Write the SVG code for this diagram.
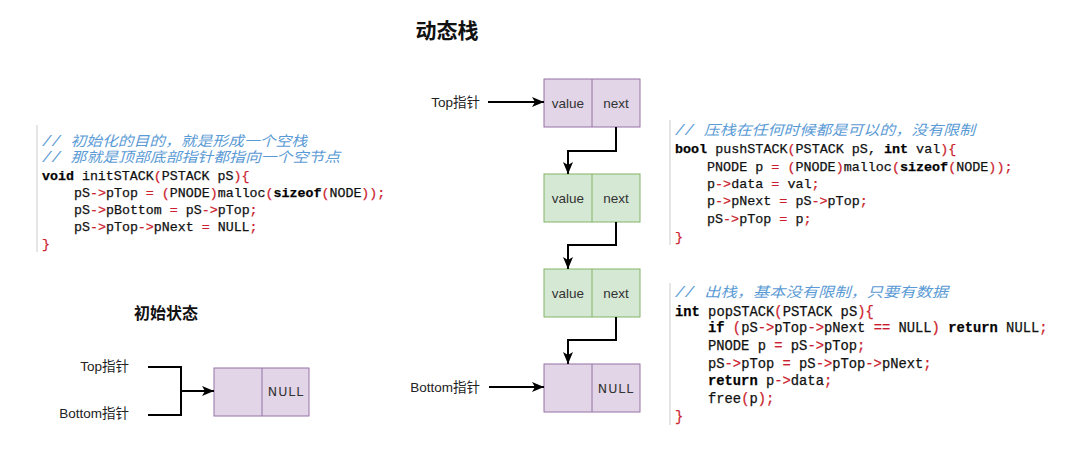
<svg xmlns="http://www.w3.org/2000/svg" width="1080" height="473" viewBox="0 0 1080 473">
<defs>
<marker id="arr" viewBox="0 0 12 10" refX="12" refY="5" markerWidth="12" markerHeight="10" markerUnits="userSpaceOnUse" orient="auto">
<path d="M0,0 L12,5 L0,10 L3,5 Z" fill="#000"/>
</marker>
<style>
.lbl{font-family:"Liberation Sans","Noto Sans CJK SC",sans-serif;font-size:13.5px;fill:#222;}
.cell{font-family:"Liberation Sans",Arial,sans-serif;font-size:13.5px;fill:#333;text-anchor:middle;dominant-baseline:central;}
.null{font-family:"DejaVu Sans","Liberation Sans",sans-serif;font-size:12.5px;fill:#333;text-anchor:middle;dominant-baseline:central;letter-spacing:1px;}
.pur{fill:#e1d5e7;stroke:#9673a6;stroke-width:1;}
.grn{fill:#d5e8d4;stroke:#82b366;stroke-width:1;}
.conn{fill:none;stroke:#000;stroke-width:2;}
.code{font-family:"Liberation Mono","Noto Sans CJK SC",monospace;fill:#111;white-space:pre;stroke:#111;stroke-width:0.25;}
.cm{font-family:"Liberation Mono","Noto Sans CJK SC",monospace;fill:#5b9bd5;font-style:italic;}
.r{fill:#cc1f2f;stroke:#cc1f2f;}
.k{font-weight:bold;fill:#000;}
.bar{stroke:#dcdcdc;stroke-width:1.5;}
.title{font-family:"Noto Sans CJK SC",sans-serif;font-weight:bold;fill:#111;}
</style>
</defs>
<rect width="1080" height="473" fill="#fff"/>

<text class="title" x="447" y="38" font-size="21" text-anchor="middle">动态栈</text>
<text class="title" x="166" y="319" font-size="16" text-anchor="middle">初始状态</text>

<!-- left code block -->
<g id="code-init" font-size="13.3">
<line class="bar" x1="37" y1="125" x2="37" y2="252"/>
<text class="cm" x="42" y="145.5" font-size="14" textLength="265" lengthAdjust="spacingAndGlyphs">// 初始化的目的，就是形成一个空栈</text>
<text class="cm" x="42" y="162" font-size="14" textLength="298" lengthAdjust="spacingAndGlyphs">// 那就是顶部底部指针都指向一个空节点</text>
<text class="code" x="42" y="179.5"><tspan class="k">void</tspan> initSTACK<tspan class="r">(</tspan>PSTACK pS<tspan class="r">){</tspan></text>
<text class="code" x="74" y="196.5">pS<tspan class="r">-&gt;</tspan>pTop <tspan class="r">=</tspan> <tspan class="r">(</tspan>PNODE<tspan class="r">)</tspan>malloc<tspan class="r">(</tspan><tspan class="k">sizeof</tspan><tspan class="r">(</tspan>NODE<tspan class="r">));</tspan></text>
<text class="code" x="74" y="213.5">pS<tspan class="r">-&gt;</tspan>pBottom <tspan class="r">=</tspan> pS<tspan class="r">-&gt;</tspan>pTop<tspan class="r">;</tspan></text>
<text class="code" x="74" y="230.5">pS<tspan class="r">-&gt;</tspan>pTop<tspan class="r">-&gt;</tspan>pNext <tspan class="r">=</tspan> NULL<tspan class="r">;</tspan></text>
<text class="code" x="42" y="247.5"><tspan class="r">}</tspan></text>
</g>

<!-- push code block -->
<g id="code-push" font-size="13.4">
<line class="bar" x1="670" y1="120" x2="670" y2="245"/>
<text class="cm" x="675" y="135" font-size="14" textLength="300" lengthAdjust="spacingAndGlyphs">// 压栈在任何时候都是可以的，没有限制</text>
<text class="code" x="675" y="152.5"><tspan class="k">bool</tspan> pushSTACK<tspan class="r">(</tspan>PSTACK pS, <tspan class="k">int</tspan> val<tspan class="r">){</tspan></text>
<text class="code" x="707" y="170.5">PNODE p <tspan class="r">=</tspan> <tspan class="r">(</tspan>PNODE<tspan class="r">)</tspan>malloc<tspan class="r">(</tspan><tspan class="k">sizeof</tspan><tspan class="r">(</tspan>NODE<tspan class="r">));</tspan></text>
<text class="code" x="707" y="187.5">p<tspan class="r">-&gt;</tspan>data <tspan class="r">=</tspan> val<tspan class="r">;</tspan></text>
<text class="code" x="707" y="205">p<tspan class="r">-&gt;</tspan>pNext <tspan class="r">=</tspan> pS<tspan class="r">-&gt;</tspan>pTop<tspan class="r">;</tspan></text>
<text class="code" x="707" y="222.5">pS<tspan class="r">-&gt;</tspan>pTop <tspan class="r">=</tspan> p<tspan class="r">;</tspan></text>
<text class="code" x="675" y="240.5"><tspan class="r">}</tspan></text>
</g>

<!-- pop code block -->
<g id="code-pop" font-size="13.8">
<line class="bar" x1="670" y1="283" x2="670" y2="425"/>
<text class="cm" x="675" y="297" font-size="14" textLength="273" lengthAdjust="spacingAndGlyphs">// 出栈，基本没有限制，只要有数据</text>
<text class="code" x="675" y="315.5"><tspan class="k">int</tspan> popSTACK<tspan class="r">(</tspan>PSTACK pS<tspan class="r">){</tspan></text>
<text class="code" x="708" y="332"><tspan class="k">if</tspan> <tspan class="r">(</tspan>pS<tspan class="r">-&gt;</tspan>pTop<tspan class="r">-&gt;</tspan>pNext <tspan class="r">==</tspan> NULL<tspan class="r">)</tspan> <tspan class="k">return</tspan> NULL<tspan class="r">;</tspan></text>
<text class="code" x="708" y="350">PNODE p <tspan class="r">=</tspan> pS<tspan class="r">-&gt;</tspan>pTop<tspan class="r">;</tspan></text>
<text class="code" x="708" y="367.5">pS<tspan class="r">-&gt;</tspan>pTop <tspan class="r">=</tspan> pS<tspan class="r">-&gt;</tspan>pTop<tspan class="r">-&gt;</tspan>pNext<tspan class="r">;</tspan></text>
<text class="code" x="708" y="385"><tspan class="k">return</tspan> p<tspan class="r">-&gt;</tspan>data<tspan class="r">;</tspan></text>
<text class="code" x="708" y="402.5">free<tspan class="r">(</tspan>p<tspan class="r">);</tspan></text>
<text class="code" x="675" y="420.5"><tspan class="r">}</tspan></text>
</g>

<!-- labels -->
<g id="label-top"><text class="lbl" x="480" y="107" text-anchor="end">Top指针</text></g>
<g id="label-bottom"><text class="lbl" x="480" y="392" text-anchor="end">Bottom指针</text></g>
<g id="label-init-top"><text class="lbl" x="129" y="371" text-anchor="end">Top指针</text></g>
<g id="label-init-bottom"><text class="lbl" x="129" y="418" text-anchor="end">Bottom指针</text></g>

<!-- nodes -->
<g id="node1">
<rect class="pur" x="544" y="79" width="96" height="48"/>
<line x1="592" y1="79" x2="592" y2="127" stroke="#9673a6"/>
<text class="cell" x="568" y="103">value</text>
<text class="cell" x="616" y="103">next</text>
</g>
<g id="node2">
<rect class="grn" x="544" y="174" width="96" height="48"/>
<line x1="592" y1="174" x2="592" y2="222" stroke="#82b366"/>
<text class="cell" x="568" y="198">value</text>
<text class="cell" x="616" y="198">next</text>
</g>
<g id="node3">
<rect class="grn" x="544" y="269" width="96" height="48"/>
<line x1="592" y1="269" x2="592" y2="317" stroke="#82b366"/>
<text class="cell" x="568" y="293">value</text>
<text class="cell" x="616" y="293">next</text>
</g>
<g id="node4">
<rect class="pur" x="544" y="364" width="96" height="48"/>
<line x1="592" y1="364" x2="592" y2="412" stroke="#9673a6"/>
<text class="null" x="616" y="388">NULL</text>
</g>
<g id="node-init">
<rect class="pur" x="214" y="368" width="95" height="48"/>
<line x1="262" y1="368" x2="262" y2="416" stroke="#9673a6"/>
<text class="null" x="286" y="391">NULL</text>
</g>

<!-- connectors -->
<g id="connectors">
<path class="conn" d="M488,102 H544" marker-end="url(#arr)"/>
<path class="conn" d="M616,127 V151 H568 V174" marker-end="url(#arr)"/>
<path class="conn" d="M616,222 V245 H568 V269" marker-end="url(#arr)"/>
<path class="conn" d="M616,317 V340 H568 V364" marker-end="url(#arr)"/>
<path class="conn" d="M489,387 H544" marker-end="url(#arr)"/>
<path class="conn" d="M148,367 H181 V415 H148"/>
<path class="conn" d="M181,391 H214" marker-end="url(#arr)"/>
</g>
</svg>
